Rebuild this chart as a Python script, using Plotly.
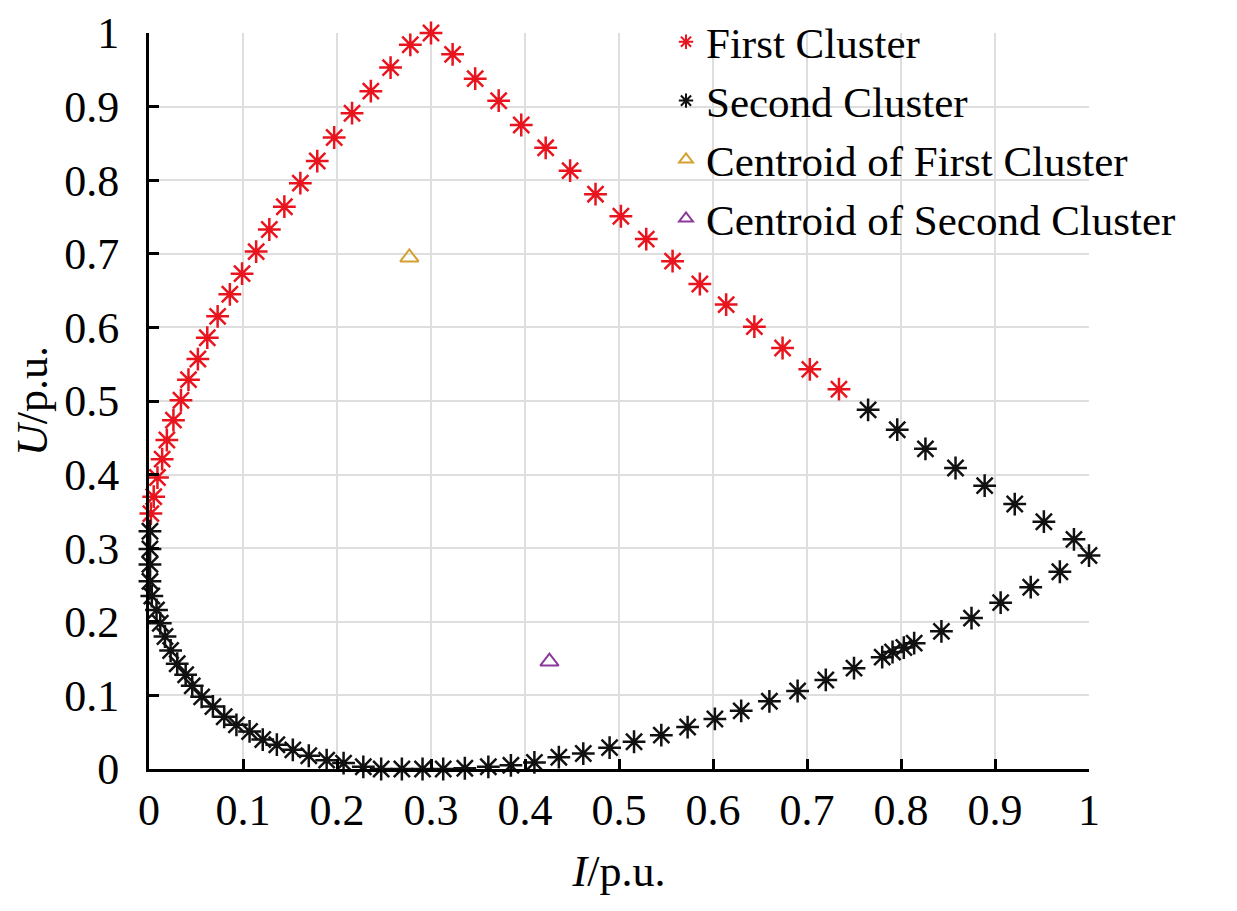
import plotly.graph_objects as go

# first cluster (red)
first_i = [0.002, 0.005, 0.009, 0.014, 0.019, 0.026, 0.034, 0.042, 0.052, 0.062,
           0.073, 0.086, 0.099, 0.114, 0.128, 0.144, 0.161, 0.179, 0.197, 0.216,
           0.236, 0.257, 0.278, 0.300, 0.323, 0.347, 0.372, 0.396, 0.422, 0.448,
           0.475, 0.502, 0.529, 0.557, 0.586, 0.614, 0.644, 0.674, 0.703, 0.734]
first_u = [0.347, 0.370, 0.396, 0.421, 0.447, 0.474, 0.501, 0.529, 0.557, 0.586,
           0.615, 0.645, 0.673, 0.703, 0.733, 0.764, 0.796, 0.826, 0.858, 0.891,
           0.921, 0.953, 0.984, 1.000, 0.971, 0.938, 0.908, 0.875, 0.844, 0.813,
           0.781, 0.751, 0.720, 0.690, 0.659, 0.631, 0.601, 0.572, 0.543, 0.516]

# second cluster (black)
second_i = [0.765, 0.796, 0.826, 0.858, 0.889, 0.921, 0.952, 0.984, 1.000,
            0.969, 0.938, 0.906, 0.875, 0.843, 0.814, 0.803, 0.791, 0.780, 0.750,
            0.720, 0.690, 0.660, 0.630, 0.602, 0.573, 0.545, 0.516, 0.490, 0.462,
            0.436, 0.410, 0.385, 0.361, 0.336, 0.313, 0.291, 0.269, 0.247, 0.228,
            0.207, 0.189, 0.170, 0.153, 0.136, 0.121, 0.107, 0.093, 0.080, 0.068,
            0.056, 0.046, 0.039, 0.030, 0.023, 0.017, 0.012, 0.008, 0.003, 0.001,
            0.001, 0.001, 0.001]
second_u = [0.488, 0.461, 0.435, 0.409, 0.385, 0.360, 0.336, 0.312, 0.290,
            0.268, 0.247, 0.226, 0.205, 0.187, 0.171, 0.165, 0.159, 0.152, 0.137,
            0.121, 0.106, 0.092, 0.079, 0.068, 0.057, 0.046, 0.037, 0.029, 0.021,
            0.016, 0.009, 0.005, 0.003, 0.001, 0.000, 0.000, 0.000, 0.000, 0.003,
            0.008, 0.012, 0.018, 0.026, 0.033, 0.040, 0.051, 0.060, 0.071, 0.085,
            0.098, 0.113, 0.128, 0.143, 0.161, 0.180, 0.198, 0.216, 0.235, 0.255,
            0.278, 0.299, 0.323]

centroid1_i = [0.277]
centroid1_u = [0.695]
centroid2_i = [0.426]
centroid2_u = [0.146]

RED = "#e8141e"
BLACK = "#111111"
GOLD = "#d4a030"
PURPLE = "#8b3a9b"
FONT = "Liberation Serif"

fig = go.Figure()
fig.add_trace(go.Scatter(x=first_i, y=first_u, mode="markers", name="First Cluster",
                         legendgroup="a", cliponaxis=False,
                         marker=dict(symbol="asterisk-open", size=19, color=RED,
                                     line=dict(color=RED, width=2.5))))
fig.add_trace(go.Scatter(x=second_i, y=second_u, mode="markers", name="Second Cluster",
                         legendgroup="b", cliponaxis=False,
                         marker=dict(symbol="asterisk-open", size=19, color=BLACK,
                                     line=dict(color=BLACK, width=2.5))))
fig.add_trace(go.Scatter(x=centroid1_i, y=centroid1_u, mode="markers",
                         name="Centroid of First Cluster", legendgroup="c",
                         marker=dict(symbol="triangle-up-open", size=16, color=GOLD,
                                     line=dict(color=GOLD, width=2))))
fig.add_trace(go.Scatter(x=centroid2_i, y=centroid2_u, mode="markers",
                         name="Centroid of Second Cluster", legendgroup="d",
                         marker=dict(symbol="triangle-up-open", size=16, color=PURPLE,
                                     line=dict(color=PURPLE, width=2))))

axis_common = dict(range=[0, 1], dtick=0.1, showgrid=True, gridcolor="#dedede", gridwidth=1.5,
                   zeroline=False, showline=True, linecolor="black", linewidth=3,
                   ticks="inside", ticklen=10, tickwidth=2.5, tickcolor="black",
                   tickfont=dict(family=FONT, size=44, color="black"))

fig.update_xaxes(**axis_common, ticklabelstandoff=0,
                 title=dict(text="<i>I</i>/p.u.", font=dict(family=FONT, size=44, color="black"),
                            standoff=22))
fig.update_yaxes(**axis_common, ticklabelstandoff=18,
                 title=dict(text="<i>U</i>/p.u.", font=dict(family=FONT, size=44, color="black"),
                            standoff=6))

fig.update_layout(
    width=1237, height=911,
    margin=dict(l=141, r=156, t=25, b=150, autoexpand=False),
    plot_bgcolor="white", paper_bgcolor="white",
    legend=dict(x=0.55, y=1.035, xanchor="left", yanchor="top",
                bgcolor="rgba(0,0,0,0)", font=dict(family=FONT, size=43, color="black"),
                tracegroupgap=0, itemsizing="constant"),
)

fig.write_html("out.html")
